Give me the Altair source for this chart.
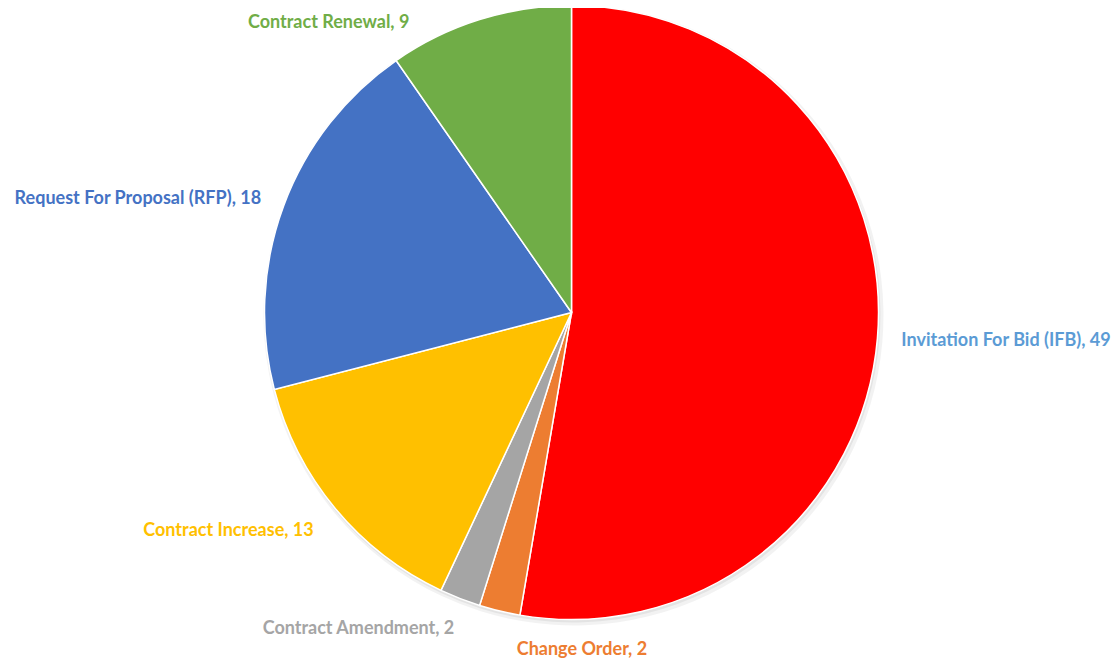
import altair as alt
import pandas as pd

# ---- data ----
categories = [
    "Invitation For Bid (IFB)",
    "Change Order",
    "Contract Amendment",
    "Contract Increase",
    "Request For Proposal (RFP)",
    "Contract Renewal",
]
values = [49, 2, 2, 13, 18, 9]

# ---- styling ----
slice_colors = ["#FF0000", "#ED7D31", "#A5A5A5", "#FFC000", "#4472C4", "#70AD47"]
label_colors = ["#5B9BD5", "#ED7D31", "#A5A5A5", "#FFC000", "#4472C4", "#70AD47"]

# label placement (align, radius, dx, dy) per category
label_layout = {
    "Invitation For Bid (IFB)": ("left", 331, 0, 1),
    "Change Order": ("center", 331, 88, 16),
    "Contract Amendment": ("right", 331, 3, 8),
    "Contract Increase": ("right", 331, -3, 7),
    "Request For Proposal (RFP)": ("right", 331, 0, 1),
    "Contract Renewal": ("right", 331, -63, 26),
}

W, H = 1103, 651
CX, CY = 563.5, 304.5
R = 307
FONT = "Lato"
FSIZE = 18

df = pd.DataFrame({
    "category": categories,
    "value": values,
    "idx": list(range(len(categories))),
})
df["label"] = df["category"] + ", " + df["value"].astype(str)

base = alt.Chart(df).encode(
    theta=alt.Theta("value:Q", stack=True),
    order=alt.Order("idx:Q", sort="ascending"),
    x=alt.value(CX),
    y=alt.value(CY),
)

shadow = alt.Chart(df).mark_arc(outerRadius=R + 3, color="#000000", opacity=0.05).encode(
    theta=alt.Theta("value:Q", stack=True),
    order=alt.Order("idx:Q", sort="ascending"),
    x=alt.value(CX + 2),
    y=alt.value(CY + 3),
)
shadow2 = alt.Chart(df).mark_arc(outerRadius=R + 1, color="#000000", opacity=0.06).encode(
    theta=alt.Theta("value:Q", stack=True),
    order=alt.Order("idx:Q", sort="ascending"),
    x=alt.value(CX + 1),
    y=alt.value(CY + 2),
)

arcs = base.mark_arc(outerRadius=R, stroke="white", strokeWidth=1.5).encode(
    color=alt.Color(
        "category:N",
        scale=alt.Scale(domain=categories, range=slice_colors),
        legend=None,
    ),
)

layers = [shadow, shadow2, arcs]
for cat, col in zip(categories, label_colors):
    align, rad, dx, dy = label_layout[cat]
    t = base.mark_text(
        radius=rad,
        align=align,
        baseline="middle",
        dx=dx,
        dy=dy,
        font=FONT,
        fontSize=FSIZE,
        fontWeight="bold",
        color=col,
    ).encode(
        text=alt.condition(
            alt.datum.category == cat, alt.Text("label:N"), alt.value("")
        )
    )
    layers.append(t)

chart = (
    alt.layer(*layers)
    .properties(width=W, height=H, autosize=alt.AutoSizeParams(type="none"), padding=0)
    .configure_view(stroke=None)
)

chart.save("out.html", embed_options={"renderer": "svg", "actions": False})
